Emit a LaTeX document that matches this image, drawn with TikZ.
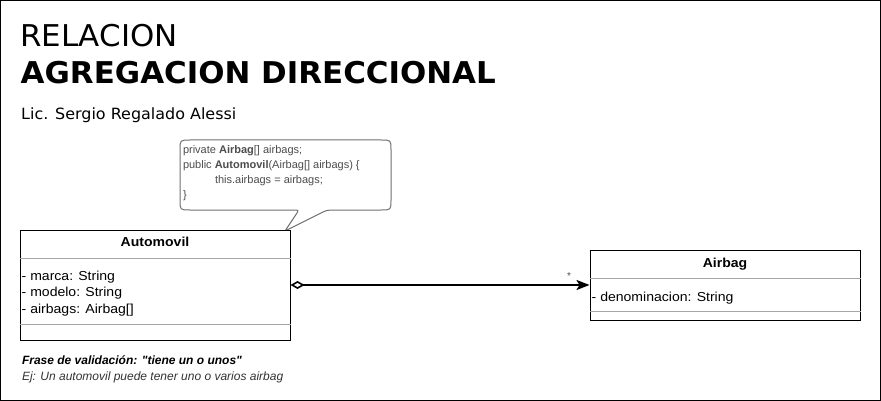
\documentclass[tikz,border=0pt]{standalone}
\usepackage{fontspec}
\setmainfont{Liberation Sans}
\newfontfamily\verd[FakeStretch=1.03]{DejaVu Sans}
\newfontfamily\clsfont[FakeStretch=1.08]{Liberation Sans}
\newfontfamily\ftfont[Ligatures=TeXOff]{Liberation Sans}
\usetikzlibrary{arrows.meta}
\definecolor{sepgray}{HTML}{A6A6A6}
\definecolor{notegray}{HTML}{4D4D4D}
\definecolor{noteline}{HTML}{707070}
\definecolor{ejgray}{HTML}{333333}
\tikzset{
  txt/.style={inner sep=0pt, anchor=base west},
  classbox/.style={draw=black, line width=1pt, inner sep=0pt, fill=white},
  sepline/.style={draw=sepgray, line width=1pt},
  attr/.style={txt, font=\clsfont\fontsize{13}{15}\selectfont},
  head/.style={inner sep=0pt, anchor=base, font=\clsfont\bfseries\fontsize{13}{15}\selectfont},
  notetxt/.style={txt, text=notegray, font=\fontsize{11}{13}\selectfont},
  agg/.style={line width=2pt, {Diamond[open,length=14pt,width=8pt,line width=1.6pt]}-{Stealth[length=13pt,width=10pt,inset=3pt]}}
}
\begin{document}
\begin{tikzpicture}[x=1pt,y=-1pt]
\useasboundingbox (0,0) rectangle (881,401);
\fill[white] (0,0) rectangle (881,401);
\draw[line width=1pt] (0.5,0.5) rectangle (880,400);

% titles
\node[txt, font=\verd\fontsize{30}{36}\selectfont] (t1) at (19.8,46.7) {RELACION};
\node[txt, font=\verd\bfseries\fontsize{30}{36}\selectfont] (t2) at (20.5,83.3) {AGREGACION DIRECCIONAL};
\node[txt, font=\verd\fontsize{15.5}{18}\selectfont] (t3) at (21,119.3) {Lic. Sergio Regalado Alessi};

% callout
\draw[noteline, line width=1pt]
  (190,140) -- (381,140) .. controls (391,140) .. (391,150) -- (391,200)
  .. controls (391,210) .. (381,210) -- (337,210)
  .. controls (327,210) .. (321,213) -- (285,231) -- (296,214.5)
  .. controls (299,210) .. (293,210) -- (190,210)
  .. controls (180,210) .. (180,200) -- (180,150)
  .. controls (180,140) .. (190,140) -- cycle;
\node[notetxt] (n1) at (182.8,153.3) {private \textbf{Airbag}[] airbags;};
\node[notetxt] (n2) at (182.8,168.3) {public \textbf{Automovil}(Airbag[] airbags) \{};
\node[notetxt] (n3) at (214.8,183.3) {this.airbags = airbags;};
\node[notetxt] (n4) at (182.8,198.3) {\}};

% class Automovil
\node[classbox, minimum width=270pt, minimum height=110pt] (auto) at (155,285) {};
\draw[sepline] (auto.west |- 0,258) -- (auto.east |- 0,258);
\draw[sepline] (auto.west |- 0,324) -- (auto.east |- 0,324);
\node[head] (autoh) at (155,246.5) {Automovil};
\node[attr] (a1) at (21.5,280) {- marca: String};
\node[attr] (a2) at (21.5,296.7) {- modelo: String};
\node[attr] (a3) at (21.5,313.3) {- airbags: Airbag[]};

% class Airbag
\node[classbox, minimum width=270pt, minimum height=70pt] (airbag) at (725,285) {};
\draw[sepline] (airbag.west |- 0,278.5) -- (airbag.east |- 0,278.5);
\draw[sepline] (airbag.west |- 0,311.5) -- (airbag.east |- 0,311.5);
\node[head] (airbagh) at (725,267) {Airbag};
\node[attr] (b1) at (591.5,301) {- denominacion: String};

% association
\draw[agg] (auto.east) -- (airbag.west);
\node[inner sep=0pt, text=notegray, font=\fontsize{10}{12}\selectfont] (mult) at (569,276) {*};

% footer
\node[txt, font=\ftfont\bfseries\itshape\fontsize{12}{14}\selectfont] (f1) at (21.8,364) {Frase de validación: "tiene un o unos"};
\node[txt, text=ejgray, font=\ftfont\itshape\fontsize{12}{14}\selectfont] (f2) at (21.8,380.5) {Ej: Un automovil puede tener uno o varios airbag};
\end{tikzpicture}
\end{document}
